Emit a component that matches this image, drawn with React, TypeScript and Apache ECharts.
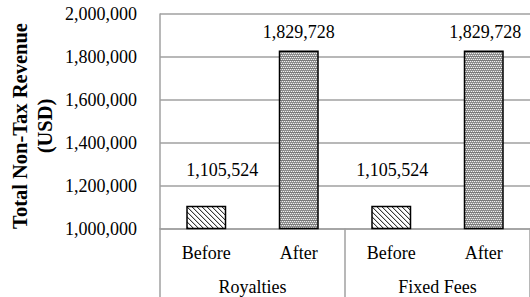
import React, { useEffect, useRef } from 'react';
import * as echarts from 'echarts';

const categories = ['Before', 'After', 'Before', 'After'];
const groups = ['Royalties', 'Fixed Fees'];
const values = [1105524, 1829728, 1105524, 1829728];
const yMin = 1000000;
const yMax = 2000000;
const yStep = 200000;
const yTitle = ['Total Non-Tax Revenue', '(USD)'];

const FONT = "'Liberation Serif', 'Times New Roman', serif";
const GRID = '#a0a0a0';

function hatchTile(): HTMLCanvasElement {
  const n = 5;
  const c = document.createElement('canvas');
  c.width = n;
  c.height = n;
  const ctx = c.getContext('2d')!;
  ctx.fillStyle = '#ffffff';
  ctx.fillRect(0, 0, n, n);
  for (let i = 0; i < n; i++) {
    ctx.fillStyle = '#3a3a3a';
    ctx.fillRect(i, i, 1, 1);
    ctx.fillStyle = '#c8c8c8';
    ctx.fillRect((i + 1) % n, i, 1, 1);
  }
  return c;
}

function weaveTile(): HTMLCanvasElement {
  const c = document.createElement('canvas');
  c.width = 4;
  c.height = 4;
  const ctx = c.getContext('2d')!;
  const rows = [
    ['#7a7a7a', '#7a7a7a', '#7a7a7a', '#7a7a7a'],
    ['#f0f0f0', '#9c9c9c', '#f0f0f0', '#9c9c9c'],
    ['#8c8c8c', '#8c8c8c', '#8c8c8c', '#8c8c8c'],
    ['#9c9c9c', '#f0f0f0', '#9c9c9c', '#f0f0f0'],
  ];
  rows.forEach((r, y) => r.forEach((col, x) => {
    ctx.fillStyle = col;
    ctx.fillRect(x, y, 1, 1);
  }));
  return c;
}

const fmt = (v: number) => v.toLocaleString('en-US');

export default function App() {
  const ref = useRef<HTMLDivElement>(null);
  useEffect(() => {
    if (!ref.current) return;
    const chart = echarts.init(ref.current, null, { renderer: 'svg' });
    const hatch = { image: hatchTile(), repeat: 'repeat', imageWidth: 5, imageHeight: 5 } as any;
    const weave = { image: weaveTile(), repeat: 'repeat', imageWidth: 4, imageHeight: 4 } as any;
    const labelShift = [[16, -36], [0, -18.5], [1, -36], [1.5, -18.5]];
    const option: any = {
      animation: false,
      backgroundColor: '#ffffff',
      textStyle: { fontFamily: FONT },
      grid: { left: 160, top: 14, width: 374, height: 214.5, containLabel: false },
      xAxis: [
        {
          type: 'category',
          data: categories,
          position: 'bottom',
          axisLine: { show: true, lineStyle: { color: GRID, width: 1.5 } },
          axisTick: { show: false },
          axisLabel: { color: '#000', fontFamily: FONT, fontSize: 18, margin: 15 },
        },
        {
          type: 'category',
          data: groups,
          position: 'bottom',
          axisLine: { show: false },
          axisTick: { show: true, length: 68.5, lineStyle: { color: GRID, width: 1.5 } },
          axisLabel: { color: '#000', fontFamily: FONT, fontSize: 18, margin: 49 },
        },
      ],
      yAxis: {
        type: 'value',
        min: yMin,
        max: yMax,
        interval: yStep,
        axisLine: { show: true, lineStyle: { color: GRID, width: 1.5 } },
        axisTick: { show: false },
        splitLine: { show: true, lineStyle: { color: GRID, width: 1.5 } },
        axisLabel: {
          color: '#000',
          fontFamily: FONT,
          fontSize: 18,
          margin: 23,
          padding: [3, 0, 0, 0],
          formatter: (v: number) => fmt(v),
        },
      },
      graphic: [
        {
          type: 'text',
          x: 32.5,
          y: 126,
          rotation: Math.PI / 2,
          style: {
            text: yTitle.join('\n'),
            fontFamily: FONT,
            fontWeight: 'bold',
            fontSize: 20.5,
            fill: '#000',
            align: 'center',
            verticalAlign: 'middle',
            lineHeight: 25,
          },
        },
      ],
      series: [
        {
          type: 'bar',
          xAxisIndex: 0,
          barWidth: 40,
          data: values.map((v, i) => ({
            value: v,
            itemStyle: {
              color: categories[i] === 'Before' ? hatch : weave,
              borderColor: '#000',
              borderWidth: 1.5,
            },
            label: {
              show: true,
              position: ['50%', labelShift[i][1]],
              offset: [labelShift[i][0], 0],
              align: 'center',
              verticalAlign: 'middle',
              formatter: () => fmt(v),
              color: '#000',
              fontFamily: FONT,
              fontSize: 18,
            },
          })),
        },
      ],
    };
    chart.setOption(option);
    return () => chart.dispose();
  }, []);
  return (
    <div
      ref={ref}
      style={{ position: 'absolute', left: 0, top: 0, width: 530, height: 297 }}
    />
  );
}
